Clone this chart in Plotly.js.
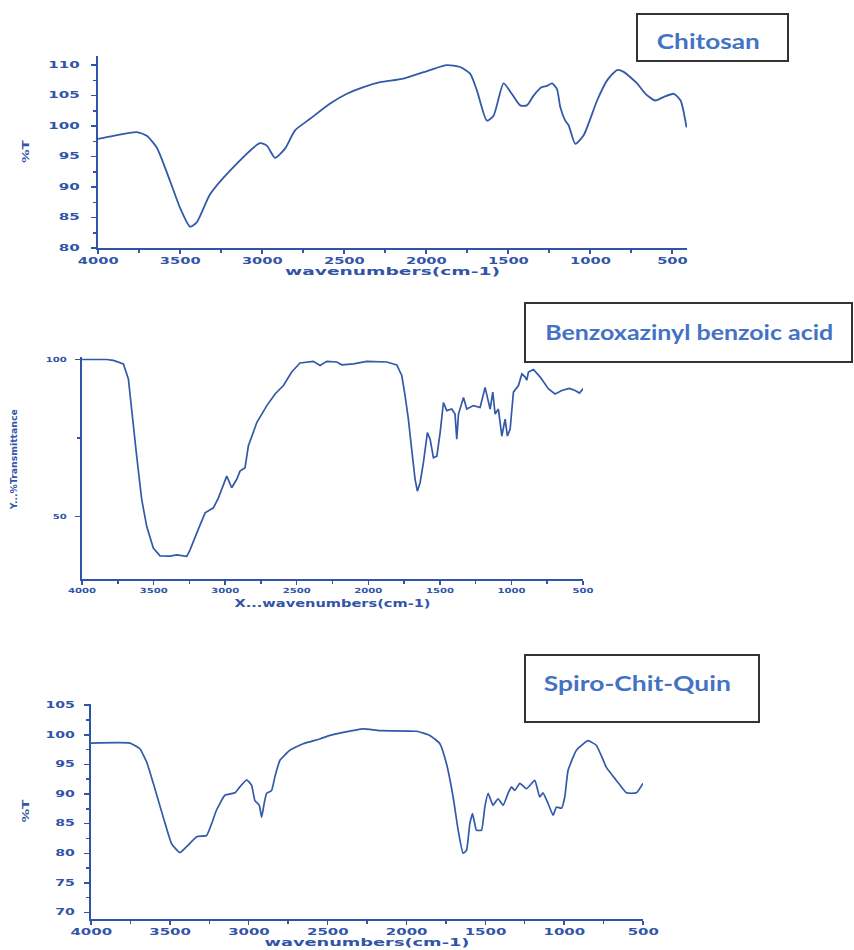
<!DOCTYPE html>
<html>
<head>
<meta charset="utf-8">
<script src="https://cdn.plot.ly/plotly-3.0.1.min.js"></script>
<style>html,body{margin:0;padding:0;background:#fff;}#chart{width:854px;height:950px;}</style>
</head>
<body>
<div id="chart"></div>
<script>
// ---- Data ----
const chitosanWave = [4000,3907,3764,3703,3642,3561,3500,3439,3398,3317,3195,3012,2971,2921,2860,2799,2707,2585,2483,2382,2280,2138,1976,1874,1793,1732,1691,1630,1589,1528,1478,1427,1386,1345,1295,1264,1233,1203,1182,1152,1131,1091,1040,958,897,836,796,714,663,602,551,490,449,413];
const chitosanT    = [97.9,98.4,99.0,98.4,96.5,91.0,86.6,83.5,84.2,88.8,92.7,97.2,96.8,94.8,96.3,99.3,101.2,103.7,105.3,106.4,107.2,107.8,109.2,110.0,109.7,108.6,105.9,100.9,101.7,107.0,105.3,103.4,103.4,105.0,106.4,106.6,107.0,106.1,103.1,100.9,100.1,97.1,98.5,104.2,107.5,109.2,108.9,107.0,105.3,104.2,104.8,105.3,104.2,99.8];

const benzoWave = [4000,3827,3781,3711,3676,3653,3618,3583,3548,3502,3455,3385,3338,3268,3245,3198,3140,3082,3047,2989,2954,2919,2896,2861,2838,2779,2709,2651,2593,2535,2477,2384,2337,2290,2220,2185,2104,2011,1871,1801,1766,1743,1720,1697,1673,1657,1638,1615,1587,1568,1545,1521,1498,1475,1452,1417,1394,1382,1370,1335,1312,1266,1219,1184,1161,1149,1130,1114,1091,1067,1044,1028,1009,986,951,927,904,893,881,846,799,741,695,648,595,555,525,497];
const benzoT    = [100,100,99.7,98.6,93.8,83.1,69.2,55.4,46.8,39.9,37.4,37.3,37.7,37.2,39.3,44.7,51.1,52.7,55.9,62.8,59.1,61.8,64.4,65.5,72.4,79.9,85.3,89.0,91.7,96.0,98.9,99.4,98.1,99.4,99.2,98.3,98.6,99.4,99.2,98.3,94.9,88.5,81.0,71.4,61.8,58.0,60.7,67.1,76.7,74.6,68.7,69.2,76.7,86.3,83.7,84.2,82.6,74.6,82.6,87.9,84.2,85.3,84.7,91.1,86.9,84.2,89.6,82.6,84.2,75.6,81.0,75.6,77.8,89.6,91.7,95.4,94.4,93.4,96.0,96.8,94.4,90.6,89.0,90.1,90.8,90.1,89.3,90.8];

const spiroWave = [4000,3753,3689,3647,3605,3542,3489,3436,3394,3330,3267,3235,3204,3151,3087,3056,3013,2982,2961,2933,2918,2904,2887,2855,2834,2802,2739,2655,2549,2485,2401,2274,2169,1936,1852,1788,1746,1704,1672,1641,1619,1598,1581,1556,1524,1503,1482,1451,1419,1387,1356,1334,1313,1281,1239,1186,1155,1134,1102,1070,1049,1017,996,975,922,849,795,732,669,605,542,500];
const spiroT    = [98.6,98.6,97.6,95.4,91.8,86.1,81.6,80.1,81.1,82.8,83.0,85.0,87.3,89.8,90.2,91.2,92.4,91.5,88.9,88.1,86.1,88.1,90.1,90.6,92.9,95.7,97.4,98.5,99.3,99.9,100.4,101.0,100.7,100.6,99.9,98.5,95.1,89.5,83.9,80.0,80.5,85.0,86.7,83.9,83.9,87.8,90.1,88.1,89.2,88.1,90.1,91.2,90.6,91.8,90.9,92.3,89.5,90.2,88.4,86.4,87.8,87.6,89.5,94.0,97.4,99.0,98.2,94.5,92.3,90.2,90.2,91.8];

const sampleNames = ["Chitosan", "Benzoxazinyl benzoic acid", "Spiro-Chit-Quin"];
const xTitles = ["wavenumbers(cm-1)", "X...wavenumbers(cm-1)", "wavenumbers(cm-1)"];
const yTitles = ["%T", "Y...%Transmittance", "%T"];

// ---- Styling ----
const W = 854, H = 950;
const px = v => v / W;
const py = v => 1 - v / H;
const blue = "#3154a8";
const lineBlue = "#3359aa";
const FAM = "DejaVu Sans, Verdana, sans-serif";
const tf = s => ({family: FAM, size: s, color: blue, weight: 700});

function xAxis(dom, range, fs, title, tfs, standoff, anchor) {
  return {
    domain: dom, range: range, anchor: anchor, showgrid: false, zeroline: false,
    showline: true, linecolor: blue, linewidth: 2,
    ticks: "outside", ticklen: 4, tickwidth: 1.5, tickcolor: blue,
    dtick: 500, tick0: 0, tickfont: tf(fs), ticklabelstandoff: 0,
    minor: {ticks: "outside", dtick: 250, ticklen: 3, tickcolor: blue, tickwidth: 1.5},
    title: {text: title, font: tf(tfs), standoff: standoff},
    automargin: false, fixedrange: true
  };
}
function yAxis(dom, range, dtick, minorD, fs, lstand, title, tfs, standoff, anchor) {
  return {
    domain: dom, range: range, anchor: anchor, showgrid: false, zeroline: false,
    showline: true, linecolor: blue, linewidth: 2,
    ticks: "outside", ticklen: 5, tickwidth: 1.5, tickcolor: blue,
    dtick: dtick, tick0: 0, tickfont: tf(fs), ticklabelstandoff: lstand,
    minor: {ticks: "outside", dtick: minorD, ticklen: 3, tickcolor: blue, tickwidth: 1.5},
    title: {text: title, font: tf(tfs), standoff: standoff},
    automargin: false, fixedrange: true
  };
}

const traces = [
  {x: chitosanWave, y: chitosanT, xaxis: "x", yaxis: "y", type: "scatter", mode: "lines",
   line: {color: lineBlue, width: 1.8, shape: "spline", smoothing: 0.6}, name: sampleNames[0], showlegend: false},
  {x: benzoWave, y: benzoT, xaxis: "x2", yaxis: "y2", type: "scatter", mode: "lines",
   line: {color: lineBlue, width: 1.7}, name: sampleNames[1], showlegend: false},
  {x: spiroWave, y: spiroT, xaxis: "x3", yaxis: "y3", type: "scatter", mode: "lines",
   line: {color: lineBlue, width: 1.7, shape: "spline", smoothing: 0.4}, name: sampleNames[2], showlegend: false}
];

const boxFont = {family: "Lato, Open Sans, sans-serif", size: 21, color: "#4472c4", weight: 700};

const layout = {
  width: W, height: H, margin: {l: 0, r: 0, t: 0, b: 0},
  paper_bgcolor: "#fff", plot_bgcolor: "rgba(0,0,0,0)",
  showlegend: false,
  xaxis:  xAxis([px(98), px(687)], [4000, 410], 8, xTitles[0], 10, 2, "y"),
  yaxis:  yAxis([py(248), py(56)], [80, 111.5], 5, 2.5, 8, 10, yTitles[0], 9, 32, "x"),
  xaxis2: xAxis([px(82), px(583)], [4000, 500], 7, xTitles[1], 10, 6, "y2"),
  yaxis2: yAxis([py(579), py(357)], [30, 100.8], 50, 25, 7, 7, yTitles[1], 8, 33, "x2"),
  xaxis3: xAxis([px(91), px(643)], [4000, 500], 8, xTitles[2], 10, 3, "y3"),
  yaxis3: yAxis([py(919), py(704)], [68.9, 105.2], 5, 2.5, 8, 8, yTitles[2], 9, 27, "x3"),
  shapes: [
    {type: "rect", xref: "paper", yref: "paper", x0: px(637), x1: px(788), y0: py(61), y1: py(14),
     line: {color: "#333", width: 2}, fillcolor: "rgba(255,255,255,0)"},
    {type: "rect", xref: "paper", yref: "paper", x0: px(525), x1: px(852), y0: py(362), y1: py(303),
     line: {color: "#333", width: 2}, fillcolor: "rgba(255,255,255,0)"},
    {type: "rect", xref: "paper", yref: "paper", x0: px(525), x1: px(759), y0: py(722), y1: py(655),
     line: {color: "#333", width: 2}, fillcolor: "rgba(255,255,255,0)"}
  ],
  annotations: [
    {text: sampleNames[0], xref: "paper", yref: "paper", x: px(708), y: py(41),
     xanchor: "center", yanchor: "middle", showarrow: false, font: boxFont},
    {text: sampleNames[1], xref: "paper", yref: "paper", x: px(689), y: py(331),
     xanchor: "center", yanchor: "middle", showarrow: false, font: boxFont},
    {text: sampleNames[2], xref: "paper", yref: "paper", x: px(637), y: py(682),
     xanchor: "center", yanchor: "middle", showarrow: false, font: boxFont}
  ]
};

// horizontal stretch of the text (the reference image is widened)
const tickPerChar = {x: 10.2, y: 10.5, x2: 7, y2: 7, x3: 10.4, y3: 9.8};
const titleLen = {x: 215, y: 23, x2: 196, y2: 100, x3: 205, y3: 23};
const titleShift = {x: 0, y: 0, x2: 0, y2: 9, x3: 0, y3: 0};
const boxLen = [103, 288, 187];

function stretch(el, len, shift) {
  const b0 = el.getBBox();
  const anchor = el.getAttribute("text-anchor") || getComputedStyle(el).textAnchor || "start";
  let left;
  if (anchor === "end") left = b0.x + b0.width - len;
  else if (anchor === "middle") left = b0.x + b0.width / 2 - len / 2;
  else left = b0.x;
  el.setAttribute("text-anchor", "start");
  el.style.textAnchor = "start";
  el.setAttribute("x", left + (shift || 0));
  el.setAttribute("textLength", len);
  el.setAttribute("lengthAdjust", "spacingAndGlyphs");
}

Plotly.newPlot("chart", traces, layout, {staticPlot: true, displayModeBar: false}).then(gd => {
  Object.keys(tickPerChar).forEach(ax => {
    gd.querySelectorAll("g." + ax + "tick text").forEach(t => stretch(t, t.textContent.length * tickPerChar[ax], 0));
    gd.querySelectorAll("g.g-" + ax + "title text").forEach(t => stretch(t, titleLen[ax], titleShift[ax]));
  });
  gd.querySelectorAll("g.annotation text.annotation-text").forEach((t, i) => stretch(t, boxLen[i], 0));
});
</script>
</body>
</html>
